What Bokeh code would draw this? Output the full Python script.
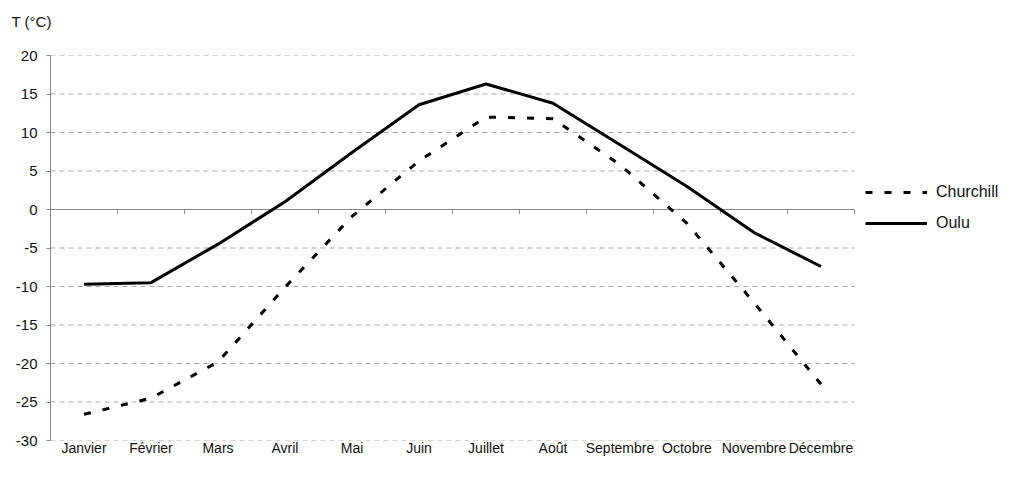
from bokeh.plotting import figure
from bokeh.models import Range1d, FixedTicker, Legend, LegendItem
from bokeh.embed import file_html
from bokeh.resources import INLINE

months = ["Janvier", "Février", "Mars", "Avril", "Mai", "Juin", "Juillet",
          "Août", "Septembre", "Octobre", "Novembre", "Décembre"]
churchill = [-26.6, -24.5, -19.8, -10.1, -0.9, 6.3, 12.0, 11.8, 5.8, -1.8, -12.1, -22.7]
oulu = [-9.7, -9.5, -4.5, 1.0, 7.4, 13.6, 16.3, 13.8, 8.4, 3.0, -3.0, -7.4]
y_ticks = [-30, -25, -20, -15, -10, -5, 0, 5, 10, 15, 20]

FONT = "Liberation Sans"
n = len(months)
xc = [i + 0.5 for i in range(n)]

# frame extends to the right of the 12 categories to host the legend
p = figure(width=1000, height=466, output_backend="svg", toolbar_location=None,
           x_range=Range1d(0, n * 950 / 804), y_range=Range1d(min(y_ticks), max(y_ticks)),
           min_border_left=50, min_border_right=0, min_border_top=55, min_border_bottom=26)
p.outline_line_color = None
p.background_fill_color = "white"

# title (trailing empty line lifts the text away from the frame)
p.title.text = "T (°C)\n"
p.title.align = "left"
p.title.offset = -39
p.title.text_font = FONT
p.title.text_font_size = "15px"
p.title.text_font_style = "normal"
p.title.text_color = "#111111"
p.title.standoff = 18

# y axis
ya = p.yaxis[0]
ya.ticker = FixedTicker(ticks=y_ticks)
ya.major_label_overrides = {t: str(t) for t in y_ticks}
ya.major_tick_out = 4
ya.major_tick_in = 0
ya.minor_tick_line_color = None
ya.axis_line_color = "#888888"
ya.major_tick_line_color = "#888888"
ya.major_label_text_font = FONT
ya.major_label_text_font_size = "15px"
ya.major_label_text_color = "#111111"
ya.major_label_standoff = 9

# x axis (labels only, at bottom)
xa = p.xaxis[0]
xa.ticker = FixedTicker(ticks=xc)
xa.major_label_overrides = {x: m for x, m in zip(xc, months)}
xa.axis_line_color = None
xa.major_tick_line_color = None
xa.minor_tick_line_color = None
xa.major_label_text_font = FONT
xa.major_label_text_font_size = "14px"
xa.major_label_text_color = "#111111"
xa.major_label_standoff = -7

# grid lines only across the category area
p.xgrid.visible = False
p.ygrid.visible = False
grid_y = [t for t in y_ticks if t != 0]
p.segment(x0=[0] * len(grid_y), y0=grid_y, x1=[n] * len(grid_y), y1=grid_y,
          line_color="#a8a8a8", line_width=1, line_dash="5 4")

# zero axis line with category boundary ticks
p.segment(x0=[0], y0=[0], x1=[n], y1=[0], line_color="#888888", line_width=1)
bounds = list(range(n + 1))
p.segment(x0=bounds, y0=[0] * len(bounds), x1=bounds, y1=[-0.55] * len(bounds),
          line_color="#888888", line_width=1)

r_ch = p.line(xc, churchill, line_color="black", line_width=3, line_dash="7 12")
r_ou = p.line(xc, oulu, line_color="black", line_width=3)

legend = Legend(items=[LegendItem(label="Churchill", renderers=[r_ch]),
                       LegendItem(label="Oulu", renderers=[r_ou])],
                location=(815, 207))
legend.glyph_width = 62
legend.glyph_height = 20
legend.label_standoff = 9
legend.spacing = 11
legend.padding = 0
legend.margin = 0
legend.border_line_color = None
legend.background_fill_alpha = 0
legend.label_text_font = FONT
legend.label_text_font_size = "16px"
legend.label_text_color = "#111111"
p.add_layout(legend)

open("out.html", "w").write(file_html(p, INLINE))
